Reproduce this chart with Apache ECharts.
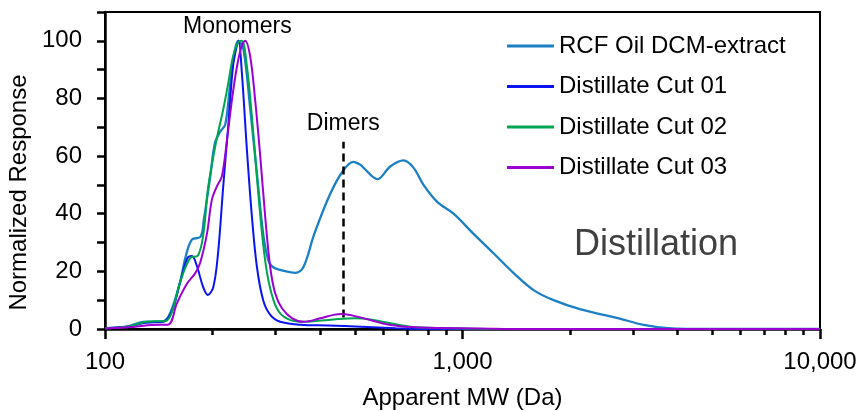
<!DOCTYPE html>
<html>
<head>
<meta charset="utf-8">
<script src="https://cdn.jsdelivr.net/npm/echarts@6/dist/echarts.min.js"></script>
<style>
html,body{margin:0;padding:0;background:#fff;}
#chart{width:865px;height:411px;}
</style>
</head>
<body>
<div id="chart"></div>
<script>
// apparent MW (Da) and normalized response
var rcfMw  = [100,115,128,145,152,162,168,175,185,189,197,203,210,217,224,231,236,244,255,266,277,286,294,309,341,359,385,427,464,495,518,528,578,628,684,729,778,851,944,1074,1221,1390,1581,1798,2141,2717,3213,3753,5000,10000];
var rcfVal = [0.3,0.8,2.5,2.6,5.4,16,25,31,32,38,53,64.5,68.5,71,85,97,100,97,76,54,33,24,21.6,20.5,19.5,21.5,33,47,55,58,57,56,52,56.4,58.5,56,50,44,40,33,26.3,19.4,13.5,10,6.8,3.8,1.4,0.3,0,0];

var cut01Mw  = [100,118,130,145,154,162,170,175,181,188,194,201,207,214,221,228,234,236.5,241.5,249.5,257.6,266,277,290,309,352,420,520,650,800,10000];
var cut01Val = [0.3,1,2.2,2.4,6.3,16,24.6,25.3,21.6,14.7,11.8,14.7,26,49,70,91,98.5,100,88.8,62,39,21.6,10,4.9,2.5,1.5,1.2,0.8,0.3,0,0];

var cut02Mw  = [100,118,130,148,154,162,173,182,188.5,194,201,207,214,221,228,236,241.5,249.5,257.6,266,275,284,296,309,330,358,435,500,552,715,900,1200,10000];
var cut02Val = [0.3,1,2.5,2.8,6,16,24.6,25.5,33,48.5,60,68,76,85,94.5,99.6,100,91,73.6,52.8,33,19.4,10,5.4,3.1,2.5,3.3,3.7,3.3,0.8,0.3,0,0];

var cut03Mw  = [100,120,135,150,159,169.5,178.7,184.6,192.8,199,205.6,212.3,219.4,226.5,233.9,241.5,246.6,254.8,263,271.8,280.6,289.7,299.2,312.6,334,359.4,400,435.5,459.6,507.5,563.8,628.5,762,1120,1500,10000];
var cut03Val = [0.2,0.7,1.4,1.5,9,15.7,19.3,23,33,44.8,49.5,53,65.6,79.5,91,98.5,100,94.5,79.5,60,39,21.6,12.4,7.2,3.7,2.5,3.7,4.9,5.2,4.3,2.8,1.4,0.5,0.2,0,0];

var seriesNames = ['RCF Oil DCM-extract','Distillate Cut 01','Distillate Cut 02','Distillate Cut 03'];
var seriesColors = ['#1b7fc4','#0a14f0','#00a550','#9b00d3'];

var majorTicks = [100,1000,10000];
var minorTicks = [200,300,400,500,600,700,800,900,2000,3000,4000,5000,6000,7000,8000,9000];

// dimer marker position
var dimerMw = 464, dimerLow = 4, dimerHigh = 65;

var fontFamily = '"Liberation Sans", Arial, sans-serif';

function pairs(xs, ys){
	var out = [];
	for(var i=0;i<xs.length;i++){
		out.push([xs[i], ys[i]]);
	}
	return out;
}

function thousands(v){
	return String(Math.round(v)).replace(/\B(?=(\d{3})+(?!\d))/g, ',');
}

var allData = [pairs(rcfMw,rcfVal), pairs(cut01Mw,cut01Val), pairs(cut02Mw,cut02Val), pairs(cut03Mw,cut03Val)];

var series = [];
for(var k=0;k<allData.length;k++){
	series.push({
		name: seriesNames[k],
		type: 'line',
		data: allData[k],
		showSymbol: false,
		smooth: 0.35,
		lineStyle: {color: seriesColors[k], width: k===0 ? 2.3 : 2},
		itemStyle: {color: seriesColors[k]},
		z: 3 + k
	});
}
series[3].markLine = {
	silent: true,
	symbol: 'none',
	lineStyle: {color: '#000', type: [8,5], width: 2.5},
	label: {
		show: true,
		position: 'end',
		distance: 7,
		formatter: 'Dimers',
		color: '#000',
		fontSize: 23,
		fontFamily: fontFamily
	},
	data: [[{coord: [dimerMw, dimerLow]}, {coord: [dimerMw, dimerHigh]}]]
};

var myChart = echarts.init(document.getElementById('chart'));
myChart.setOption({
	animation: false,
	textStyle: {fontFamily: fontFamily},
	grid: {
		left: 105, right: 45, top: 12, bottom: 82,
		outerBoundsMode: 'none',
		containLabel: false,
		show: true, borderColor: '#000', borderWidth: 2
	},
	legend: {
		orient: 'vertical',
		left: 502,
		top: 29,
		itemWidth: 47,
		itemHeight: 3,
		itemGap: 16.5,
		icon: 'rect',
		data: seriesNames,
		textStyle: {fontSize: 24, color: '#000'}
	},
	xAxis: [{
		type: 'log',
		logBase: 10,
		min: 100,
		max: 10000,
		name: 'Apparent MW (Da)',
		nameLocation: 'middle',
		nameGap: 57,
		nameTextStyle: {fontSize: 24, color: '#000'},
		axisLine: {lineStyle: {color: '#000', width: 2.5}},
		axisTick: {customValues: majorTicks, length: 10, lineStyle: {color: '#000', width: 2.5}},
		axisLabel: {customValues: majorTicks, fontSize: 24, color: '#000', margin: 21, formatter: thousands},
		splitLine: {show: false},
		minorTick: {show: false}
	},{
		type: 'log',
		logBase: 10,
		min: 100,
		max: 10000,
		position: 'bottom',
		axisLine: {show: false},
		axisTick: {customValues: minorTicks, length: 6, lineStyle: {color: '#000', width: 2.5}},
		axisLabel: {show: false},
		splitLine: {show: false}
	}],
	yAxis: {
		type: 'value',
		min: 0,
		max: 110,
		interval: 10,
		name: 'Normalized Response',
		nameLocation: 'middle',
		nameGap: 70,
		nameTextStyle: {fontSize: 24, color: '#000', padding: [0, 44, 0, 0]},
		axisLine: {show: true, lineStyle: {color: '#000', width: 2.5}},
		axisTick: {show: true, length: 8, lineStyle: {color: '#000', width: 2.5}},
		axisLabel: {
			fontSize: 24, color: '#000', margin: 23,
			formatter: function(v){ return (v % 20 === 0 && v <= 100) ? String(v) : ''; }
		},
		splitLine: {show: false}
	},
	graphic: [{
		type: 'text',
		left: 183,
		top: 15,
		style: {text: 'Monomers', fontSize: 23, fill: '#000', fontFamily: fontFamily}
	},{
		type: 'text',
		left: 574,
		top: 227,
		style: {text: 'Distillation', fontSize: 36, fill: '#404040', fontFamily: fontFamily}
	}],
	series: series
});
</script>
</body>
</html>
